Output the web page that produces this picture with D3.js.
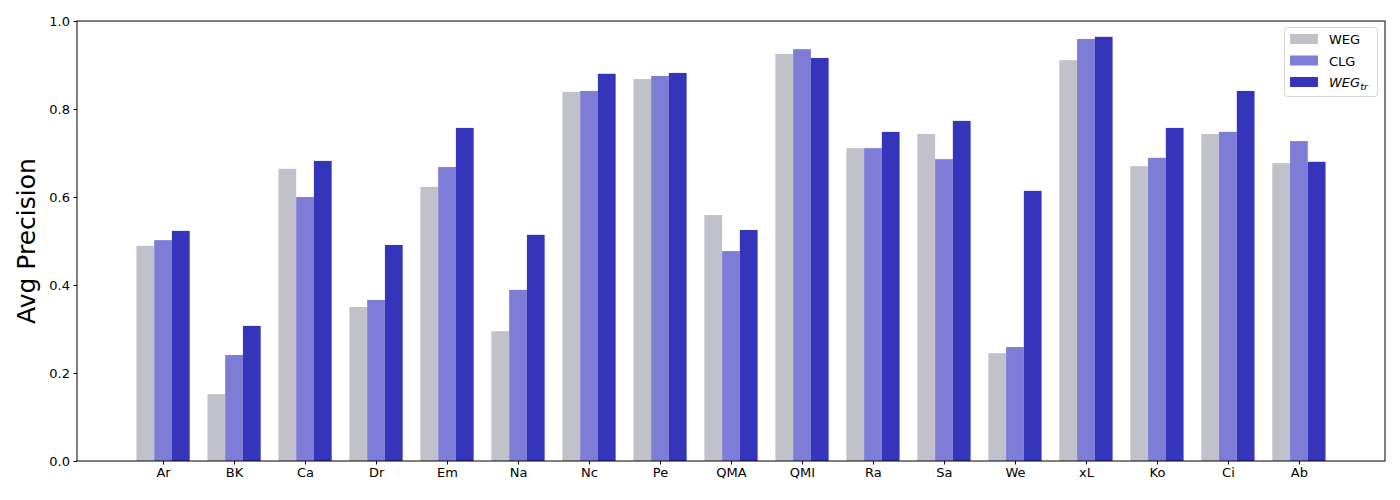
<!DOCTYPE html>
<html><head><meta charset="utf-8">
<script src="https://cdn.jsdelivr.net/npm/d3@7"></script>
<style>body{margin:0;background:#fff;} text{font-family:"DejaVu Sans",sans-serif;}</style>
</head><body><svg id="c" width="1400" height="500"></svg>
<script>
const categories = ["Ar","BK","Ca","Dr","Em","Na","Nc","Pe","QMA","QMI","Ra","Sa","We","xL","Ko","Ci","Ab"];
const wegValues   = [0.489,0.152,0.664,0.350,0.623,0.295,0.839,0.868,0.559,0.925,0.711,0.743,0.245,0.911,0.670,0.743,0.677];
const clgValues   = [0.502,0.241,0.600,0.366,0.668,0.389,0.841,0.875,0.477,0.936,0.711,0.686,0.259,0.959,0.689,0.748,0.727];
const wegtrValues = [0.523,0.307,0.682,0.491,0.757,0.514,0.880,0.882,0.525,0.916,0.748,0.773,0.614,0.964,0.757,0.841,0.680];
const yTicks = [0.0,0.2,0.4,0.6,0.8,1.0];
const seriesNames = ["WEG","CLG","WEGtr"];

const colors = ["#c1c1cc","#7d7dd8","#3535bc"];
const series = [wegValues, clgValues, wegtrValues];
const svg = d3.select("#c");
const L=77, R=1385, T=21, B=461;
const bw = 0.25;
const n = categories.length;
const pad = (n - 1 + 2*0.375) * 0.05;
const x = d3.scaleLinear().domain([-0.375 - pad, n - 1 + 0.375 + pad]).range([L, R]);
const y = d3.scaleLinear().domain([0,1]).range([B, T]);

series.forEach((vals, si) => {
  svg.append("g").selectAll("rect").data(vals).enter().append("rect")
    .attr("x", (d,i) => x(i + (si-1)*bw - bw/2))
    .attr("width", (d,i) => x(i + (si-1)*bw + bw/2) - x(i + (si-1)*bw - bw/2))
    .attr("y", d => y(d))
    .attr("height", d => y(0) - y(d))
    .attr("fill", colors[si]);
});

// axes
const xAxis = d3.axisBottom(x).tickValues(d3.range(n)).tickFormat(i => categories[i]).tickSize(3.5).tickPadding(3.5);
const gx = svg.append("g").attr("transform",`translate(0,${B})`).call(xAxis);
const yAxis = d3.axisLeft(y).tickValues(yTicks).tickFormat(d3.format(".1f")).tickSize(3.5).tickPadding(3.5);
const gy = svg.append("g").attr("transform",`translate(${L},0)`).call(yAxis);
[gx,gy].forEach(g=>{
  g.selectAll("text").attr("font-size","13px").attr("fill","#000").style("font-family","DejaVu Sans");
  g.selectAll("line").attr("stroke","#000").attr("stroke-width",1);
  g.select(".domain").remove();
});
svg.append("rect").attr("x",L).attr("y",T).attr("width",R-L).attr("height",B-T)
  .attr("fill","none").attr("stroke","#000").attr("stroke-width",1);

svg.append("text").attr("transform",`translate(35,${(T+B)/2}) rotate(-90)`)
  .attr("text-anchor","middle").attr("font-size","25px").text("Avg Precision");

// legend
const lg = svg.append("g");
lg.append("rect").attr("x",1284.5).attr("y",27.5).attr("width",93).attr("height",69).attr("rx",3)
  .attr("fill","#fff").attr("fill-opacity",0.8).attr("stroke","#d5d5d5").attr("stroke-width",1);
seriesNames.forEach((nm,i)=>{
  const yy = 34 + i*21.5;
  lg.append("rect").attr("x",1290).attr("y",yy).attr("width",28).attr("height",10).attr("fill",colors[i]);
  const t = lg.append("text").attr("x",1329).attr("y",yy+10).attr("font-size","13px");
  if (nm === "WEGtr") {
    t.append("tspan").attr("font-style","italic").text("WEG");
    t.append("tspan").attr("font-style","italic").attr("font-size","9.5px").attr("dy",3).text("tr");
  } else t.text(nm);
});
</script></body></html>
